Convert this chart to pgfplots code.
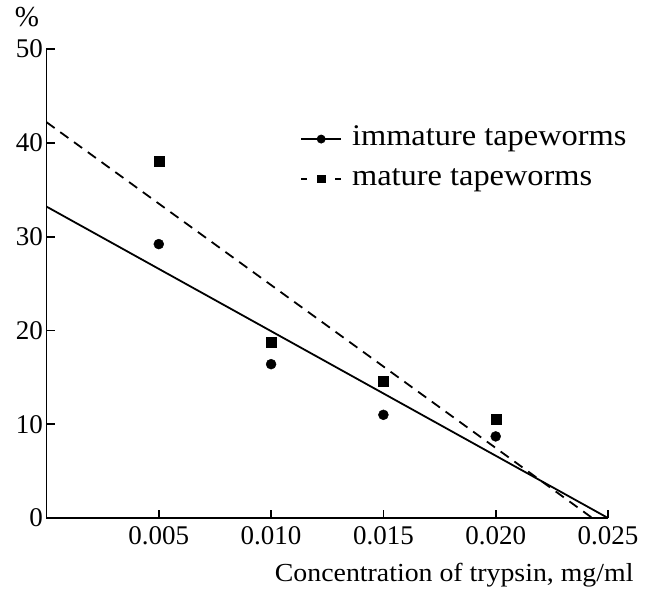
\documentclass[border=0pt]{standalone}
\usepackage{fontspec}
\setmainfont{Liberation Serif}
\usepackage{pgfplots}
\pgfplotsset{compat=1.18}
\usepackage{graphicx}
\begin{document}
\begin{tikzpicture}
\begin{axis}[
  scale only axis, width=561.5pt, height=469pt,
  xmin=0, xmax=0.025, ymin=0, ymax=50,
  axis lines=left,
  axis line style={-, line width=1.8pt, black},
  xtick={0.005,0.010,0.015,0.020,0.025},
  ytick={0,10,20,30,40,50},
  scaled x ticks=false,
  xticklabel style={yshift=-5pt, /pgf/number format/fixed, /pgf/number format/fixed zerofill, /pgf/number format/precision=3, /pgf/number format/assume math mode=true},
  yticklabel style={/pgf/number format/assume math mode=true},
  tick style={line width=1.8pt, black},
  major tick length=8pt,
  tick align=inside,
  ticklabel style={font=\fontsize{27}{30}\selectfont},
  xlabel={\scalebox{1.07}[1]{Concentration of trypsin, mg/ml}},
  ylabel={\%},
  every axis x label/.style={at={(rel axis cs:1,0)}, anchor=base east, xshift=29pt, yshift=-63pt, font=\fontsize{26}{30}\selectfont},
  every axis y label/.style={at={(rel axis cs:0,1)}, anchor=center, xshift=-19.5pt, yshift=32pt, font=\fontsize{29}{32}\selectfont},
  legend cell align=left,
  legend style={draw=none, fill=none, at={(axis cs:0.01129,41.7)}, anchor=north west,
    inner sep=0pt, row sep=16pt, font=\fontsize{30}{34}\selectfont,
    nodes={inner sep=0pt, text height=18pt, text depth=6pt},
    /tikz/every odd column/.append style={column sep=10pt}},
  legend image code/.code={\draw[mark repeat=2,mark phase=2,#1] plot coordinates {(0pt,0pt) (20pt,0pt) (40pt,0pt)};},
]
\addplot[black, line width=1.8pt, forget plot] coordinates {(0,33.2) (0.025,0)};
\addplot[black, line width=1.8pt, dash pattern=on 10pt off 7pt, forget plot] coordinates {(0,42.2) (0.0243,0)};
\addplot[only marks, mark=*, mark size=5pt, black, forget plot] coordinates {(0.005,29.2) (0.010,16.4) (0.015,11.0) (0.020,8.7)};
\addplot[only marks, mark=square*, mark size=5pt, black, forget plot] coordinates {(0.005,38.0) (0.010,18.7) (0.015,14.6) (0.020,10.5)};
\addlegendimage{black, line width=1.8pt, mark=*, mark size=3.5pt, mark options={solid}}
\addlegendentry{\scalebox{1.08}[1]{immature tapeworms}}
\addlegendimage{black, line width=1.8pt, dash pattern=on 6pt off 28pt, mark=square*, mark size=3.5pt, mark options={solid}}
\addlegendentry{\scalebox{1.08}[1]{mature tapeworms}}
\end{axis}
\pgfresetboundingbox
\path[use as bounding box] ([xshift=-46.5pt,yshift=-74pt]current axis.south west) rectangle ([xshift=608.5pt,yshift=518pt]current axis.south west);
\end{tikzpicture}
\end{document}
